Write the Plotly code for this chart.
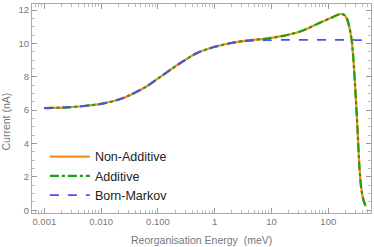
import plotly.graph_objects as go

# Reorganisation energy (meV) and current (nA)
energy = [0.001, 0.0025, 0.005, 0.01, 0.02, 0.032, 0.063, 0.124, 0.245, 0.48, 0.94,
          1.86, 3.65, 8.2, 16, 32, 71, 107, 148, 170, 195, 215, 234, 258, 275,
          295, 310, 330, 352, 377, 414, 455]
non_additive = [6.12, 6.17, 6.25, 6.38, 6.62, 6.90, 7.42, 8.12, 8.81, 9.41, 9.77,
                10.01, 10.17, 10.29, 10.45, 10.71, 11.24, 11.50, 11.72, 11.76, 11.68, 11.45, 11.0, 10.2, 9.2,
                7.6, 6.3, 4.6, 2.7, 1.44, 0.64, 0.24]
additive = list(non_additive)
born_markov = [6.12, 6.17, 6.25, 6.38, 6.62, 6.90, 7.42, 8.12, 8.81, 9.41, 9.77,
               10.0, 10.14, 10.19, 10.21, 10.21, 10.21, 10.21, 10.21, 10.21, 10.21, 10.21, 10.21, 10.21, 10.21,
               10.2, 10.2, 10.2, 10.2, 10.2, 10.19, 10.19]

x_tickvals = [0.001, 0.01, 0.1, 1, 10, 100]
x_ticktext = ["0.001", "0.010", "0.100", "1", "10", "100"]
y_tickvals = [0, 2, 4, 6, 8, 10, 12]

x_minor = [m * 10 ** e for e in range(-4, 3) for m in range(2, 10)]

FONT = "Liberation Sans, Arial, sans-serif"

fig = go.Figure()
fig.add_trace(go.Scatter(x=energy, y=non_additive, mode="lines", name="Non-Additive",
                         line=dict(color="#FF8C1A", width=2.2, shape="spline", smoothing=0.8)))
fig.add_trace(go.Scatter(x=energy, y=additive, mode="lines", name="Additive",
                         line=dict(color="#18A018", width=2.2, dash="dashdot", shape="spline", smoothing=0.8)))
fig.add_trace(go.Scatter(x=energy, y=born_markov, mode="lines", name="Born-Markov",
                         line=dict(color="#4D4DFF", width=1.8, dash="dash", shape="spline", smoothing=0.8)))

axis_common = dict(showgrid=False, zeroline=False, showline=True, linecolor="#AAAAAA", linewidth=1,
                   mirror="allticks", ticks="inside", tickcolor="#999999", ticklen=5, tickwidth=1,
                   automargin=False,
                   tickfont=dict(family=FONT, size=9.5, color="#777777"))

fig.update_layout(
    width=374, height=247,
    margin=dict(l=32, r=3, t=4, b=34, autoexpand=False),
    paper_bgcolor="white", plot_bgcolor="white",
    showlegend=True,
    legend=dict(x=0.038, y=0.34, xanchor="left", yanchor="top", bgcolor="rgba(0,0,0,0)",
                itemwidth=40,
                font=dict(family=FONT, size=12.5, color="#222222")),
    xaxis=dict(type="log", range=[-3.217, 2.752], tickvals=x_tickvals, ticktext=x_ticktext,
               minor=dict(tickvals=x_minor, ticks="inside", ticklen=3, tickcolor="#BBBBBB"),
               **axis_common),
    yaxis=dict(range=[-0.16, 12.36], tickvals=y_tickvals,
               minor=dict(dtick=0.5, ticks="inside", ticklen=3, tickcolor="#BBBBBB"),
               **axis_common),
    annotations=[
        dict(text="Reorganisation Energy  (meV)", xref="paper", yref="paper", x=0.5, y=0,
             yshift=-27, xanchor="center", yanchor="middle", showarrow=False,
             font=dict(family=FONT, size=10.5, color="#777777")),
        dict(text="Current (nA)", xref="paper", yref="paper", x=0, y=0.5, xshift=-27, yshift=-13,
             xanchor="center", yanchor="middle", textangle=-90, showarrow=False,
             font=dict(family=FONT, size=10.5, color="#777777")),
    ],
)

fig.write_html("out.html", config={"displayModeBar": False},
               post_script="document.body.style.margin='0';document.body.style.overflow='hidden';")
